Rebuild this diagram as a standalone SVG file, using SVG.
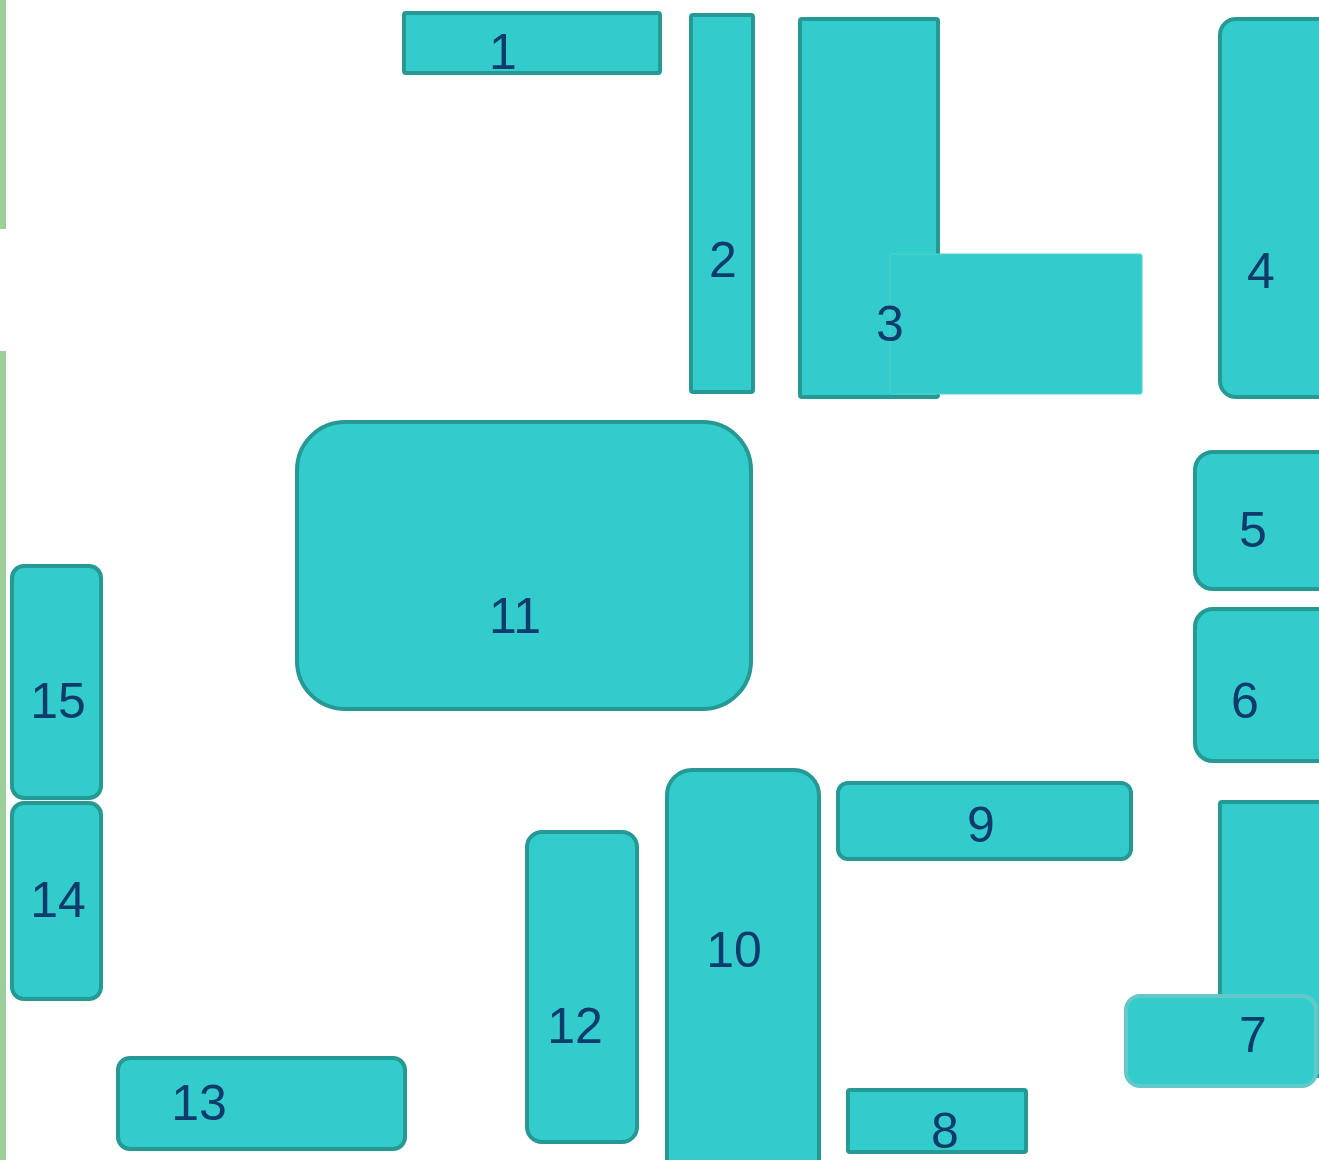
<svg xmlns="http://www.w3.org/2000/svg" width="1319" height="1160" viewBox="0 0 1319 1160">
<style>
.n{fill:#33cccc;stroke:#269995;stroke-width:4}
.t{font-family:"Liberation Sans",Arial,sans-serif;font-size:50px;fill:#0e3a6c;text-anchor:middle}
</style>
<rect width="1319" height="1160" fill="#ffffff"/>
<g id="bars">
<rect x="0" y="0" width="6" height="229" fill="#9ccf9a"/>
<rect x="0" y="351" width="6" height="809" fill="#9ccf9a"/>
</g>
<g id="connectors"></g>
<g id="node1"><rect class="n" x="404" y="13" width="256" height="60" rx="2"/><text class="t" x="503" y="69">1</text></g>
<g id="node2"><rect class="n" x="691" y="15" width="62" height="377" rx="2"/><text class="t" x="723" y="277">2</text></g>
<g id="node3"><rect class="n" x="800" y="19" width="138" height="378" rx="2"/><rect x="890" y="254" width="252" height="140" rx="2" fill="#33cccc" stroke="#55d0d0" stroke-width="1"/><text class="t" x="890" y="341">3</text></g>
<g id="node4"><rect class="n" x="1220" y="19" width="120" height="378" rx="16"/><text class="t" x="1261" y="288">4</text></g>
<g id="node5"><rect class="n" x="1195" y="452" width="140" height="137" rx="18"/><text class="t" x="1253" y="547">5</text></g>
<g id="node6"><rect class="n" x="1195" y="609" width="140" height="152" rx="18"/><text class="t" x="1245" y="718">6</text></g>
<g id="node7"><rect class="n" x="1220" y="802" width="120" height="274" rx="2"/><rect x="1126" y="996" width="190" height="90" rx="14" fill="#33cccc" stroke="#62c8c8" stroke-width="4"/><text class="t" x="1253" y="1052">7</text></g>
<g id="node8"><rect class="n" x="848" y="1090" width="178" height="62" rx="2"/><text class="t" x="945" y="1148">8</text></g>
<g id="node9"><rect class="n" x="838" y="783" width="293" height="76" rx="10"/><text class="t" x="981" y="842">9</text></g>
<g id="node10"><rect class="n" x="667" y="770" width="152" height="420" rx="25"/><text class="t" x="734" y="967">10</text></g>
<g id="node11"><rect class="n" x="297" y="422" width="454" height="287" rx="48"/><text class="t" x="515" y="633">11</text></g>
<g id="node12"><rect class="n" x="527" y="832" width="110" height="310" rx="15"/><text class="t" x="575" y="1043">12</text></g>
<g id="node13"><rect class="n" x="118" y="1058" width="287" height="91" rx="12"/><text class="t" x="199" y="1120">13</text></g>
<g id="node14"><rect class="n" x="12" y="803" width="89" height="196" rx="12"/><text class="t" x="58" y="917">14</text></g>
<g id="node15"><rect class="n" x="12" y="566" width="89" height="232" rx="12"/><text class="t" x="58" y="718">15</text></g>
</svg>
